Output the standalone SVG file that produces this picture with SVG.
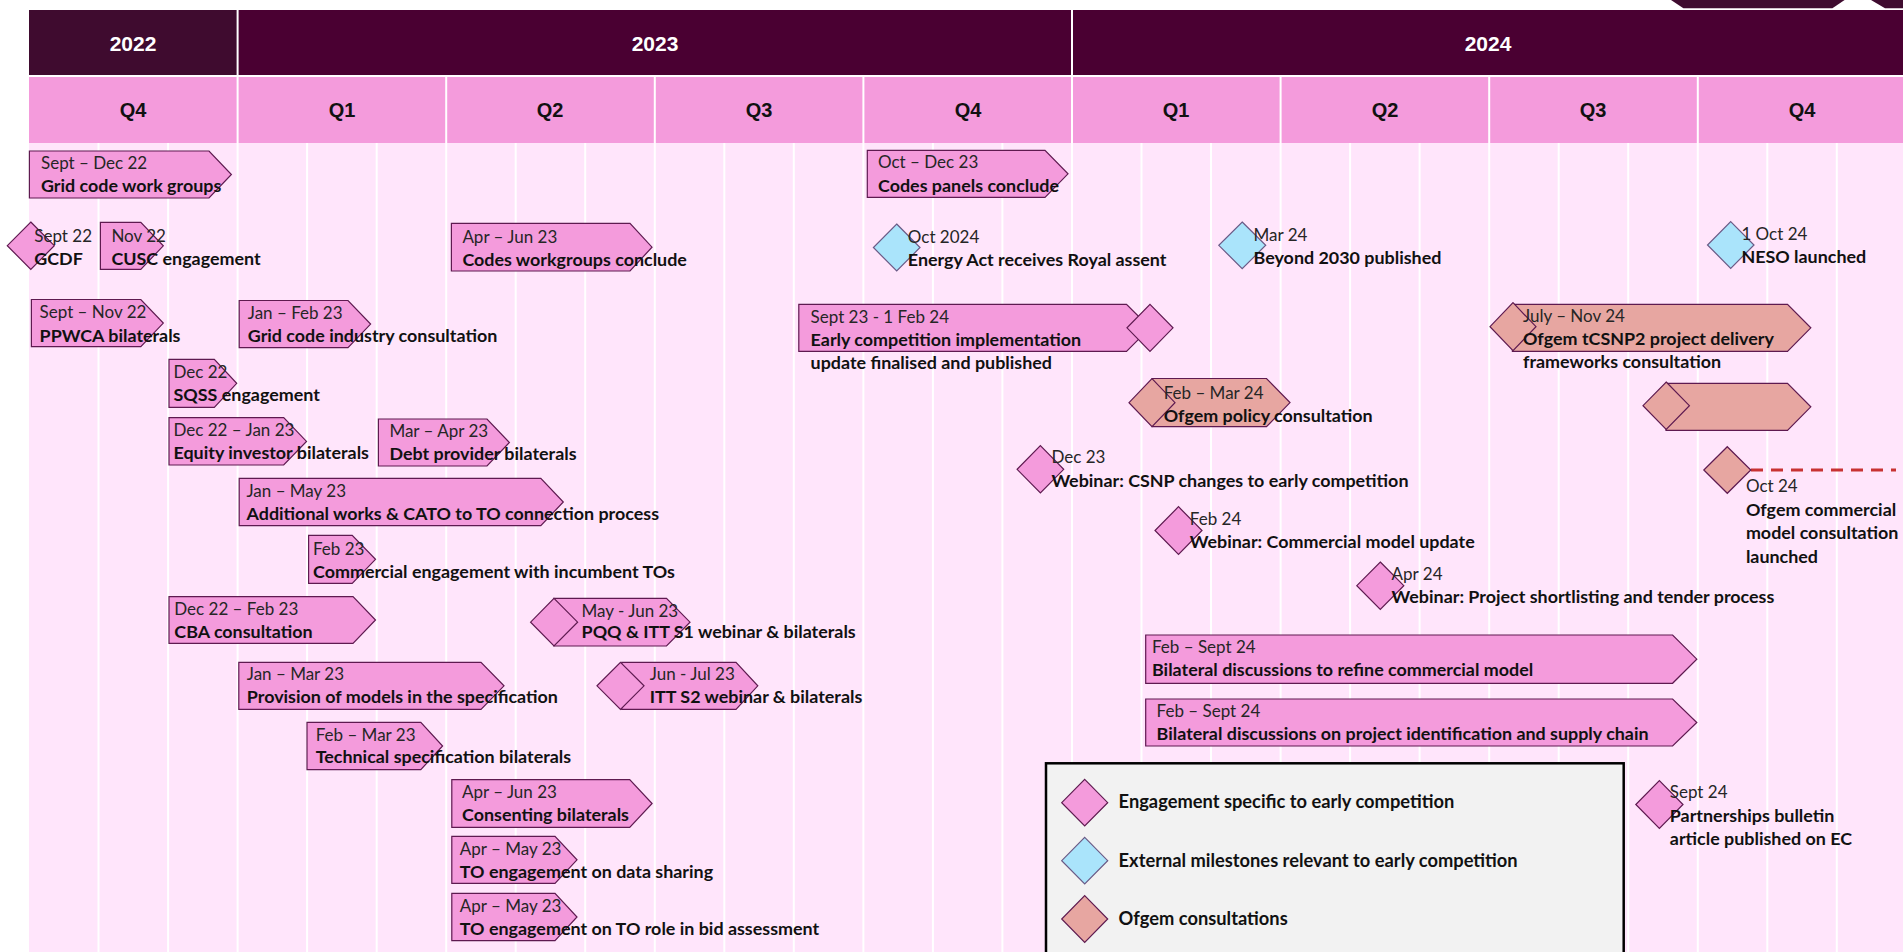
<svg xmlns="http://www.w3.org/2000/svg" width="1903" height="952" viewBox="0 0 1903 952">
<defs>
<style>
.pk{fill:#f49bdc;stroke:#5e1a50;stroke-width:1.2}
.bl{fill:#aae4fb;stroke:#6a5a86;stroke-width:1.2}
.sa{fill:#e7a6a1;stroke:#5e1a50;stroke-width:1.2}
.d{font-family:Lato,"Open Sans",sans-serif;font-size:17px;font-weight:400;fill:#262626}
.t{font-family:Lato,"Open Sans",sans-serif;font-size:17.9px;font-weight:700;fill:#111}
.yr{font-family:"Liberation Sans",Arial,sans-serif;font-size:21px;font-weight:700;fill:#fff;text-anchor:middle}
.q{font-family:"Liberation Sans",Arial,sans-serif;font-size:20px;font-weight:700;fill:#111;text-anchor:middle}
.lg{font-family:Lato,"Open Sans",sans-serif;font-size:18.3px;font-weight:700;fill:#111}
.ml{stroke:#fff;stroke-width:2}
</style>
</defs>
<rect width="1903" height="952" fill="#fff"/>
<polygon points="1671,0 1844.6,0 1832.4,8.3 1683.4,8.3" fill="#3f0b2f"/>
<polygon points="1871,0 1903,0 1903,8.3 1885,8.3" fill="#3f0b2f"/>
<rect x="29" y="143" width="1874" height="809" fill="#ffe5fb"/>
<g id="grid">
<line class="ml" x1="98.5" y1="143" x2="98.5" y2="952"/>
<line class="ml" x1="168.1" y1="143" x2="168.1" y2="952"/>
<line class="ml" x1="237.6" y1="143" x2="237.6" y2="952"/>
<line class="ml" x1="307.1" y1="143" x2="307.1" y2="952"/>
<line class="ml" x1="376.7" y1="143" x2="376.7" y2="952"/>
<line class="ml" x1="446.2" y1="143" x2="446.2" y2="952"/>
<line class="ml" x1="515.7" y1="143" x2="515.7" y2="952"/>
<line class="ml" x1="585.2" y1="143" x2="585.2" y2="952"/>
<line class="ml" x1="654.8" y1="143" x2="654.8" y2="952"/>
<line class="ml" x1="724.3" y1="143" x2="724.3" y2="952"/>
<line class="ml" x1="793.8" y1="143" x2="793.8" y2="952"/>
<line class="ml" x1="863.4" y1="143" x2="863.4" y2="952"/>
<line class="ml" x1="932.9" y1="143" x2="932.9" y2="952"/>
<line class="ml" x1="1002.4" y1="143" x2="1002.4" y2="952"/>
<line class="ml" x1="1072" y1="143" x2="1072" y2="952"/>
<line class="ml" x1="1141.5" y1="143" x2="1141.5" y2="952"/>
<line class="ml" x1="1211" y1="143" x2="1211" y2="952"/>
<line class="ml" x1="1280.6" y1="143" x2="1280.6" y2="952"/>
<line class="ml" x1="1350.1" y1="143" x2="1350.1" y2="952"/>
<line class="ml" x1="1419.6" y1="143" x2="1419.6" y2="952"/>
<line class="ml" x1="1489.2" y1="143" x2="1489.2" y2="952"/>
<line class="ml" x1="1558.7" y1="143" x2="1558.7" y2="952"/>
<line class="ml" x1="1628.2" y1="143" x2="1628.2" y2="952"/>
<line class="ml" x1="1697.8" y1="143" x2="1697.8" y2="952"/>
<line class="ml" x1="1767.3" y1="143" x2="1767.3" y2="952"/>
<line class="ml" x1="1836.8" y1="143" x2="1836.8" y2="952"/>
</g>
<g id="header">
<rect x="29" y="10" width="208.6" height="66" fill="#3f0b2f"/>
<rect x="237.6" y="10" width="834.4" height="66" fill="#4a0032"/>
<rect x="1072" y="10" width="831" height="66" fill="#4a0032"/>
<rect x="29" y="76" width="1874" height="67" fill="#f49bdc"/>
<line class="ml" x1="29" y1="76" x2="1903" y2="76"/>
<line class="ml" x1="237.6" y1="10" x2="237.6" y2="143"/>
<line class="ml" x1="1072" y1="10" x2="1072" y2="143"/>
<line class="ml" x1="446.2" y1="76" x2="446.2" y2="143"/>
<line class="ml" x1="654.8" y1="76" x2="654.8" y2="143"/>
<line class="ml" x1="863.4" y1="76" x2="863.4" y2="143"/>
<line class="ml" x1="1280.6" y1="76" x2="1280.6" y2="143"/>
<line class="ml" x1="1489.2" y1="76" x2="1489.2" y2="143"/>
<line class="ml" x1="1697.8" y1="76" x2="1697.8" y2="143"/>
<text class="yr" x="133" y="51">2022</text>
<text class="yr" x="655" y="51">2023</text>
<text class="yr" x="1488" y="51">2024</text>
<text class="q" x="133" y="117">Q4</text>
<text class="q" x="342" y="117">Q1</text>
<text class="q" x="550" y="117">Q2</text>
<text class="q" x="759" y="117">Q3</text>
<text class="q" x="968" y="117">Q4</text>
<text class="q" x="1176" y="117">Q1</text>
<text class="q" x="1385" y="117">Q2</text>
<text class="q" x="1593" y="117">Q3</text>
<text class="q" x="1802" y="117">Q4</text>
</g>
<g id="connectors">
<line x1="1751" y1="470" x2="1896" y2="470" stroke="#c83232" stroke-width="3" stroke-dasharray="12 8"/>
</g>
<g id="grid-code-work-groups">
<path class="pk" d="M29.4 151H209L231.4 174.5L209 198H29.4Z"/>
<text class="d" x="41" y="168.5">Sept – Dec 22</text>
<text class="t" x="41" y="191.5">Grid code work groups</text>
</g>
<g id="codes-panels">
<path class="pk" d="M867.3 150.3H1045L1068 173.8L1045 197.3H867.3Z"/>
<text class="d" x="878" y="168">Oct – Dec 23</text>
<text class="t" x="878" y="191.5">Codes panels conclude</text>
</g>
<g id="gcdf">
<path class="pk" d="M30.8 222L54.3 245.7L30.8 269.4L7.3 245.7Z"/>
<text class="d" x="34.3" y="242">Sept 22</text>
<text class="t" x="34.3" y="265">GCDF</text>
</g>
<g id="cusc">
<path class="pk" d="M100.4 222.3H140.8L163.3 245.8L140.8 269.3H100.4Z"/>
<text class="d" x="111.4" y="242">Nov 22</text>
<text class="t" x="111.4" y="265">CUSC engagement</text>
</g>
<g id="codes-workgroups">
<path class="pk" d="M451.4 223.3H630L652 247.2L630 271H451.4Z"/>
<text class="d" x="462.4" y="242.5">Apr – Jun 23</text>
<text class="t" x="462.4" y="266">Codes workgroups conclude</text>
</g>
<g id="energy-act">
<path class="bl" d="M896.7 224L920 247.5L896.7 271L873.4 247.5Z"/>
<text class="d" x="907.8" y="242.7">Oct 2024</text>
<text class="t" x="907.8" y="265.7">Energy Act receives Royal assent</text>
</g>
<g id="beyond-2030">
<path class="bl" d="M1242.2 222L1265.7 245.3L1242.2 268.7L1218.8 245.3Z"/>
<text class="d" x="1253.5" y="240.5">Mar 24</text>
<text class="t" x="1253.5" y="263.5">Beyond 2030 published</text>
</g>
<g id="neso">
<path class="bl" d="M1730.7 221.7L1754 245L1730.7 268.3L1707.5 245Z"/>
<text class="d" x="1741.4" y="240">1 Oct 24</text>
<text class="t" x="1741.4" y="263">NESO launched</text>
</g>
<g id="ppwca">
<path class="pk" d="M31.4 299.5H140.8L163.3 323.1L140.8 346.7H31.4Z"/>
<text class="d" x="39.6" y="318.3">Sept – Nov 22</text>
<text class="t" x="39.6" y="341.7">PPWCA bilaterals</text>
</g>
<g id="grid-code-consultation">
<path class="pk" d="M239.2 300.5H348L370.6 324.1L348 347.7H239.2Z"/>
<text class="d" x="247.8" y="318.5">Jan – Feb 23</text>
<text class="t" x="247.8" y="342">Grid code industry consultation</text>
</g>
<g id="early-competition-update">
<path class="pk" d="M798.8 304.3H1126.5L1150 327.8L1126.5 351.3H798.8Z"/>
<path class="pk" d="M1150 304.3L1173 327.8L1150 351.3L1127 327.8Z"/>
<text class="d" x="810.6" y="322.7">Sept 23 - 1 Feb 24</text>
<text class="t" x="810.6" y="345.7">Early competition implementation</text>
<text class="t" x="810.6" y="369">update finalised and published</text>
</g>
<g id="ofgem-tcsnp2">
<path class="sa" d="M1512.4 304.3H1787.5L1810.8 327.8L1787.5 351.3H1512.4Z"/>
<path class="sa" d="M1513 302.7L1536 326.7L1513 350.7L1490 326.7Z"/>
<text class="d" x="1523" y="321.7">July – Nov 24</text>
<text class="t" x="1523" y="345">Ofgem tCSNP2 project delivery</text>
<text class="t" x="1523" y="368.3">frameworks consultation</text>
</g>
<g id="sqss">
<path class="pk" d="M169 359.3H214.3L236.7 383.3L214.3 407.3H169Z"/>
<text class="d" x="173.5" y="378.3">Dec 22</text>
<text class="t" x="173.5" y="401">SQSS engagement</text>
</g>
<g id="ofgem-policy">
<path class="sa" d="M1152.2 378.5H1266.5L1290 402.6L1266.5 426.7H1152.2Z"/>
<path class="sa" d="M1152 378.7L1175 402.7L1152 426.7L1129 402.7Z"/>
<text class="d" x="1163.7" y="399">Feb – Mar 24</text>
<text class="t" x="1163.7" y="421.7">Ofgem policy consultation</text>
</g>
<g id="ofgem-unlabelled">
<path class="sa" d="M1666 383.3H1787.5L1810.8 406.8L1787.5 430.3H1666Z"/>
<path class="sa" d="M1666.2 382L1689.4 405.7L1666.2 429.4L1643 405.7Z"/>
</g>
<g id="equity-investor">
<path class="pk" d="M169 417.7H283.7L306.5 441.4L283.7 465H169Z"/>
<text class="d" x="173.5" y="436">Dec 22 – Jan 23</text>
<text class="t" x="173.5" y="459.3">Equity investor bilaterals</text>
</g>
<g id="debt-provider">
<path class="pk" d="M378.4 419H487L509.4 442.5L487 466H378.4Z"/>
<text class="d" x="389.4" y="436.5">Mar – Apr 23</text>
<text class="t" x="389.4" y="460">Debt provider bilaterals</text>
</g>
<g id="webinar-csnp">
<path class="pk" d="M1040.4 445.6L1063.7 469.3L1040.4 493L1017.1 469.3Z"/>
<text class="d" x="1051.4" y="463.3">Dec 23</text>
<text class="t" x="1051.4" y="486.7">Webinar: CSNP changes to early competition</text>
</g>
<g id="additional-works">
<path class="pk" d="M239.2 478.3H540.8L563.3 502L540.8 525.7H239.2Z"/>
<text class="d" x="246.5" y="496.7">Jan – May 23</text>
<text class="t" x="246.5" y="520">Additional works &amp; CATO to TO connection process</text>
</g>
<g id="ofgem-commercial">
<path class="sa" d="M1727.3 446.7L1750.8 470L1727.3 493.3L1703.8 470Z"/>
<text class="d" x="1745.9" y="492.3">Oct 24</text>
<text class="t" x="1745.9" y="515.7">Ofgem commercial</text>
<text class="t" x="1745.9" y="539">model consultation</text>
<text class="t" x="1745.9" y="562.7">launched</text>
</g>
<g id="commercial-engagement">
<path class="pk" d="M308.6 535.3H352.2L375.5 559.3L352.2 583.3H308.6Z"/>
<text class="d" x="313" y="555">Feb 23</text>
<text class="t" x="313" y="578.3">Commercial engagement with incumbent TOs</text>
</g>
<g id="webinar-commercial-model">
<path class="pk" d="M1178.5 506.7L1202 530.5L1178.5 554.3L1155 530.5Z"/>
<text class="d" x="1189.8" y="525">Feb 24</text>
<text class="t" x="1189.8" y="548.3">Webinar: Commercial model update</text>
</g>
<g id="webinar-shortlisting">
<path class="pk" d="M1380.3 562L1403.8 585.7L1380.3 609.4L1356.8 585.7Z"/>
<text class="d" x="1391.6" y="580">Apr 24</text>
<text class="t" x="1391.6" y="603.3">Webinar: Project shortlisting and tender process</text>
</g>
<g id="cba">
<path class="pk" d="M169 596.7H353L375.5 620L353 643.3H169Z"/>
<text class="d" x="174.3" y="615">Dec 22 – Feb 23</text>
<text class="t" x="174.3" y="638.3">CBA consultation</text>
</g>
<g id="pqq-itt-s1">
<path class="pk" d="M553.9 598.3H666.5L690 622.2L666.5 646H553.9Z"/>
<path class="pk" d="M554 598.3L577.6 622.2L554 646L530.6 622.2Z"/>
<text class="d" x="581.6" y="616.7">May - Jun 23</text>
<text class="t" x="581.6" y="638.3">PQQ &amp; ITT S1 webinar &amp; bilaterals</text>
</g>
<g id="bilateral-refine">
<path class="pk" d="M1145.7 635H1672.6L1696.8 659.2L1672.6 683.3H1145.7Z"/>
<text class="d" x="1152" y="653.3">Feb – Sept 24</text>
<text class="t" x="1152" y="676">Bilateral discussions to refine commercial model</text>
</g>
<g id="provision-models">
<path class="pk" d="M238.8 662.3H481L504 685.8L481 709.3H238.8Z"/>
<text class="d" x="246.8" y="680">Jan – Mar 23</text>
<text class="t" x="246.8" y="703.3">Provision of models in the specification</text>
</g>
<g id="itt-s2">
<path class="pk" d="M621.7 662.3H736L757.8 685.8L736 709.3H621.7Z"/>
<path class="pk" d="M620.5 662.3L644 685.8L620.5 709.3L597 685.8Z"/>
<text class="d" x="649.8" y="680">Jun - Jul 23</text>
<text class="t" x="649.8" y="703.3">ITT S2 webinar &amp; bilaterals</text>
</g>
<g id="bilateral-project-identification">
<path class="pk" d="M1145.7 699H1672.6L1696.8 722.5L1672.6 746H1145.7Z"/>
<text class="d" x="1156.6" y="716.7">Feb – Sept 24</text>
<text class="t" x="1156.6" y="740">Bilateral discussions on project identification and supply chain</text>
</g>
<g id="technical-spec">
<path class="pk" d="M307 722.3H420.8L442.6 746L420.8 769.7H307Z"/>
<text class="d" x="315.7" y="741">Feb – Mar 23</text>
<text class="t" x="315.7" y="763.3">Technical specification bilaterals</text>
</g>
<g id="consenting">
<path class="pk" d="M451.8 779.7H629.7L652.1 803.5L629.7 827.3H451.8Z"/>
<text class="d" x="462" y="798.3">Apr – Jun 23</text>
<text class="t" x="462" y="821">Consenting bilaterals</text>
</g>
<g id="legend">
<rect x="1046" y="763.3" width="577.7" height="200" fill="#f2f2f2" stroke="#000" stroke-width="2.5"/>
<path class="pk" d="M1084.7 779.4L1107.7 802.7L1084.7 826L1061.7 802.7Z"/>
<path class="bl" d="M1084.7 837.4L1107.7 860.7L1084.7 884L1061.7 860.7Z"/>
<path class="sa" d="M1084.7 895.7L1107.7 919L1084.7 942.3L1061.7 919Z"/>
<text class="lg" x="1118.6" y="808.3">Engagement specific to early competition</text>
<text class="lg" x="1118.6" y="866.7">External milestones relevant to early competition</text>
<text class="lg" x="1118.6" y="925">Ofgem consultations</text>
</g>
<g id="partnerships-bulletin">
<path class="pk" d="M1659.4 780.7L1683 804.5L1659.4 828.3L1635.8 804.5Z"/>
<text class="d" x="1669.8" y="798.3">Sept 24</text>
<text class="t" x="1669.8" y="821.7">Partnerships bulletin</text>
<text class="t" x="1669.8" y="845">article published on EC</text>
</g>
<g id="to-data-sharing">
<path class="pk" d="M451.8 836.3H555L577 859.8L555 883.3H451.8Z"/>
<text class="d" x="459.8" y="855">Apr – May 23</text>
<text class="t" x="459.8" y="878.3">TO engagement on data sharing</text>
</g>
<g id="to-role-bid">
<path class="pk" d="M451.8 893.3H555L577 917L555 940.7H451.8Z"/>
<text class="d" x="459.8" y="911.7">Apr – May 23</text>
<text class="t" x="459.8" y="935">TO engagement on TO role in bid assessment</text>
</g>
</svg>
